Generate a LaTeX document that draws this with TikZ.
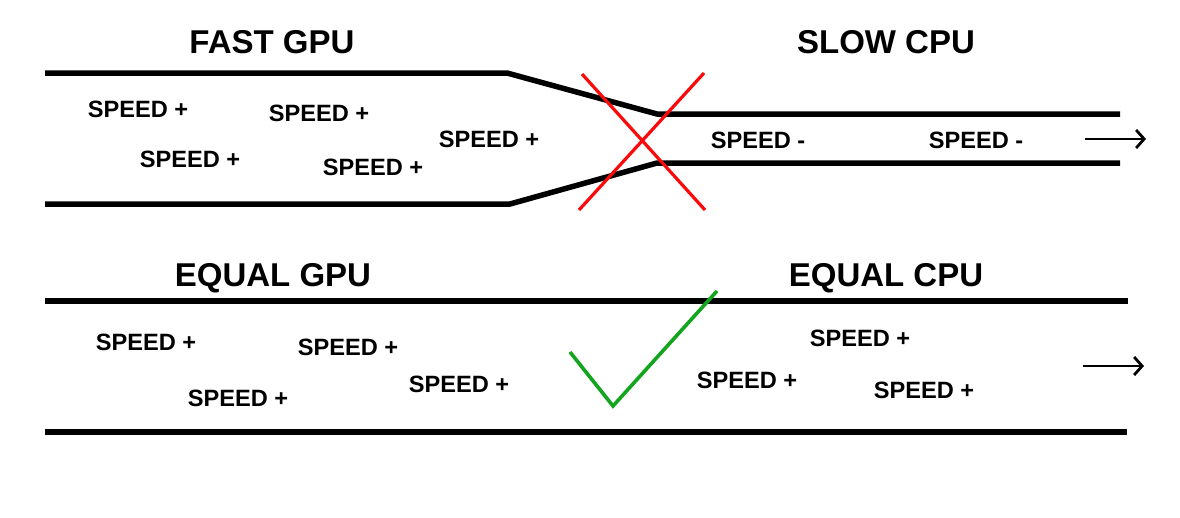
\documentclass[tikz,border=0pt]{standalone}
\usepackage{fontspec}
\setmainfont{Liberation Sans}
\usetikzlibrary{arrows.meta}
\definecolor{xred}{RGB}{250,10,10}
\definecolor{okgreen}{RGB}{20,165,30}
\tikzset{
  pipe/.style={line width=5.5pt, line join=round},
  title/.style={font=\bfseries\fontsize{33}{36}\selectfont, anchor=base, inner sep=0pt},
  spd/.style={font=\bfseries\fontsize{23.6}{26}\selectfont, anchor=base, inner sep=0pt},
  flow/.style={line width=2.6pt, -{Straight Barb[length=8pt,width=18pt,line width=2.8pt]}},
  cross/.style={line width=3.2pt, draw=xred},
  check/.style={line width=3.6pt, draw=okgreen, line join=miter}
}
\begin{document}
\begin{tikzpicture}[x=1pt,y=-1pt]
\useasboundingbox (0,0) rectangle (1180,517);
% titles
\node[title] (fastgpu) at (272,53) {FAST GPU};
\node[title] (slowcpu) at (886,53) {SLOW CPU};
\node[title] (eqgpu) at (273,286) {EQUAL GPU};
\node[title] (eqcpu) at (886,286) {EQUAL CPU};
% top pipe
\coordinate (t1) at (45,73);
\coordinate (t2) at (507,73);
\coordinate (t3) at (657,114);
\coordinate (t4) at (1120,114);
\coordinate (b1) at (45,204);
\coordinate (b2) at (510,204);
\coordinate (b3) at (657,163);
\coordinate (b4) at (1120,163);
\draw[pipe] (t1) -- (t2) -- (t3) -- (t4);
\draw[pipe] (b1) -- (b2) -- (b3) -- (b4);
% bottom pipe
\coordinate (u1) at (45,301);
\coordinate (u2) at (1128,301);
\coordinate (l1) at (45,432);
\coordinate (l2) at (1127,432);
\draw[pipe] (u1) -- (u2);
\draw[pipe] (l1) -- (l2);
% top labels
\node[spd] (s1) at (138,117) {SPEED +};
\node[spd] (s2) at (319,121) {SPEED +};
\node[spd] (s3) at (190,167) {SPEED +};
\node[spd] (s4) at (489,147) {SPEED +};
\node[spd] (s5) at (373,175) {SPEED +};
\node[spd] (m1) at (758,148) {SPEED -};
\node[spd] (m2) at (976,148) {SPEED -};
% bottom labels
\node[spd] (e1) at (146,350) {SPEED +};
\node[spd] (e2) at (348,355) {SPEED +};
\node[spd] (e3) at (238,406) {SPEED +};
\node[spd] (e4) at (459,392) {SPEED +};
\node[spd] (e5) at (860,346) {SPEED +};
\node[spd] (e6) at (747,388) {SPEED +};
\node[spd] (e7) at (924,398) {SPEED +};
% cross
\coordinate (x1) at (582,74);
\coordinate (x2) at (705,210);
\coordinate (x3) at (704,73);
\coordinate (x4) at (579,210);
\draw[cross] (x1) -- (x2);
\draw[cross] (x3) -- (x4);
% check
\coordinate (c1) at (570,352);
\coordinate (c2) at (613,406);
\coordinate (c3) at (717,291);
\draw[check] (c1) -- (c2) -- (c3);
% arrows
\coordinate (a1) at (1085,139);
\coordinate (a2) at (1146,139);
\coordinate (a3) at (1083,366);
\coordinate (a4) at (1144,366);
\draw[flow] (a1) -- (a2);
\draw[flow] (a3) -- (a4);
\end{tikzpicture}
\end{document}
